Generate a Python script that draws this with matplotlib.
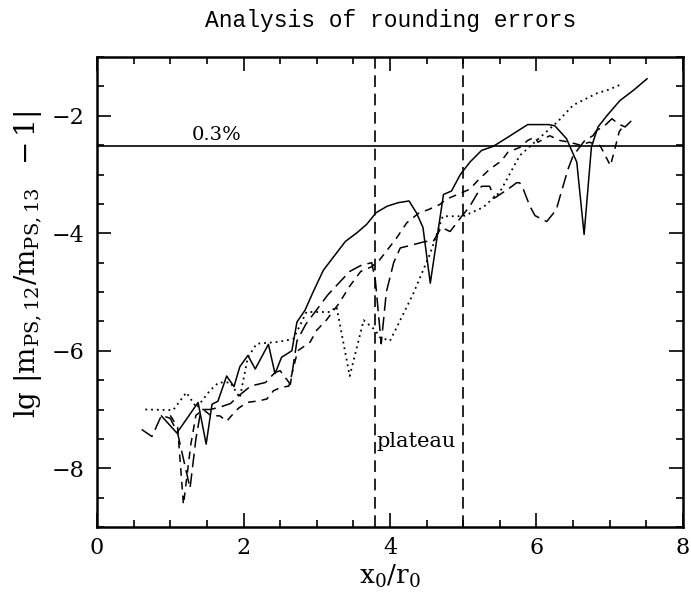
import numpy as np
import matplotlib.pyplot as plt
from matplotlib.ticker import MultipleLocator

# solid curve
x_solid = [0.88, 1.09, 1.38, 1.49, 1.57, 1.65, 1.77, 1.87, 1.95, 2.06, 2.16, 2.34, 2.43, 2.52,
           2.66, 2.73, 2.84, 2.95, 3.09, 3.2, 3.39, 3.55, 3.68, 3.81, 3.96, 4.11, 4.26, 4.36,
           4.45, 4.55, 4.73, 4.84, 4.96, 5.09, 5.25, 5.41, 5.59, 5.88, 6.16, 6.25, 6.41, 6.55,
           6.65, 6.75, 6.84, 6.96, 7.14, 7.32, 7.51]
y_solid = [-7.11, -7.40, -6.88, -7.59, -6.91, -6.86, -6.43, -6.61, -6.27, -6.08, -6.31, -5.89,
           -6.39, -6.11, -6.0, -5.51, -5.31, -5.0, -4.63, -4.45, -4.14, -3.99, -3.85, -3.65,
           -3.54, -3.48, -3.45, -3.65, -3.9, -4.85, -3.34, -3.28, -3.0, -2.79, -2.59, -2.52,
           -2.38, -2.15, -2.15, -2.17, -2.39, -2.79, -4.02, -2.53, -2.19, -2.0, -1.74, -1.57,
           -1.37]

# long dashes
x_long = [0.61, 0.75, 0.88, 1.0, 1.1, 1.27, 1.35, 1.42, 1.55, 1.7, 1.82, 1.95, 2.1, 2.2, 2.3,
          2.43, 2.5, 2.64, 2.73, 2.85, 3.0, 3.15, 3.3, 3.45, 3.6, 3.75, 3.8, 3.88, 3.95, 4.05,
          4.14, 4.3, 4.48, 4.59, 4.7, 4.82, 4.98, 5.09, 5.25, 5.36, 5.43, 5.5, 5.61, 5.73,
          5.77, 5.82, 5.91, 5.98, 6.14, 6.27, 6.32, 6.43, 6.5, 6.66, 6.77, 6.82, 6.93, 7.03,
          7.12, 7.21, 7.3]
y_long = [-7.34, -7.46, -7.1, -7.15, -7.4, -8.34, -7.5, -7.0, -7.0, -6.95, -6.9, -6.75, -6.6,
          -6.57, -6.54, -6.37, -6.34, -6.57, -5.83, -5.55, -5.3, -5.05, -4.85, -4.65, -4.55,
          -4.5, -4.8, -5.88, -5.0, -4.5, -4.25, -4.2, -4.14, -4.14, -3.9, -3.97, -3.71, -3.54,
          -3.2, -3.2, -3.4, -3.34, -3.25, -3.14, -3.14, -3.25, -3.54, -3.7, -3.8, -3.6, -3.38,
          -2.91, -2.68, -2.42, -2.34, -2.25, -2.17, -2.05, -2.14, -2.19, -2.08]

# short dashes
x_short = [1.0, 1.1, 1.18, 1.28, 1.35, 1.45, 1.55, 1.68, 1.77, 1.84, 1.93, 2.05, 2.22, 2.32,
           2.41, 2.5, 2.62, 2.74, 2.81, 2.91, 3.0, 3.13, 3.3, 3.45, 3.6, 3.75, 3.86, 4.09,
           4.23, 4.4, 4.52, 4.68, 4.77, 5.09, 5.2, 5.36, 5.52, 5.61, 5.77, 5.88, 5.98, 6.02,
           6.18, 6.32, 6.45, 6.6, 6.72, 6.87, 7.01, 7.13, 7.2]
y_short = [-7.1, -7.3, -8.62, -7.6, -7.1, -7.0, -7.1, -7.11, -7.2, -7.1, -6.98, -6.88, -6.85,
           -6.82, -6.68, -6.63, -6.6, -6.0, -5.94, -5.85, -5.65, -5.48, -5.2, -4.9, -4.65,
           -4.57, -4.45, -4.08, -3.82, -3.65, -3.6, -3.51, -3.42, -3.25, -3.1, -2.91, -2.77,
           -2.62, -2.54, -2.42, -2.36, -2.45, -2.34, -2.42, -2.45, -2.5, -2.45, -2.51, -2.85,
           -2.27, -2.15]

# dotted
x_dot = [0.66, 1.04, 1.22, 1.36, 1.54, 1.66, 1.82, 1.95, 2.06, 2.18, 2.47, 2.68, 2.86, 3.18,
         3.27, 3.45, 3.64, 3.8, 3.86, 4.0, 4.14, 4.32, 4.55, 4.72, 5.0, 5.27, 5.5, 5.77,
         6.02, 6.29, 6.5, 6.82, 7.0, 7.18]
y_dot = [-7.0, -7.01, -6.71, -6.97, -6.68, -6.54, -6.54, -6.8, -6.11, -5.88, -5.85, -5.8,
         -5.34, -5.34, -5.25, -6.43, -5.48, -5.65, -5.77, -5.83, -5.48, -5.02, -4.34, -3.71,
         -3.71, -3.56, -3.3, -2.68, -2.4, -2.1, -1.82, -1.62, -1.55, -1.45]

level = np.log10(0.003)
plateau = [3.8, 5.0]

plt.rcParams['mathtext.fontset'] = 'dejavuserif'
plt.rcParams['font.family'] = 'DejaVu Serif'

fig = plt.figure(figsize=(6.91, 5.94), dpi=100)
ax = fig.add_axes([0.1404, 0.1128, 0.848, 0.7912])

lw = 1.1
ax.plot(x_solid, y_solid, color='black', lw=lw)
ax.plot(x_long, y_long, color='black', lw=lw, linestyle=(0, (9, 4)))
ax.plot(x_short, y_short, color='black', lw=lw, linestyle=(0, (5, 4)))
ax.plot(x_dot, y_dot, color='black', lw=1.3, linestyle=(0, (1, 2.2)))

ax.axhline(level, color='black', lw=1.2)
for xp in plateau:
    ax.axvline(xp, color='black', lw=1.2, linestyle=(0, (7, 4)))

ax.text(1.3, level + 0.04, '0.3%', fontsize=14, ha='left', va='bottom')
ax.text(3.82, -7.55, 'plateau', fontsize=15, ha='left', va='center')

ax.set_xlim(0, 8)
ax.set_ylim(-9, -1)
ax.xaxis.set_major_locator(MultipleLocator(2))
ax.xaxis.set_minor_locator(MultipleLocator(0.5))
ax.yaxis.set_major_locator(MultipleLocator(2))
ax.yaxis.set_minor_locator(MultipleLocator(0.5))
ax.tick_params(which='both', direction='in', top=True, right=True, width=1.2,
               labelsize=16)
ax.tick_params(which='major', length=10)
ax.tick_params(which='minor', length=5)
ax.tick_params(axis='y', pad=9)
ax.tick_params(axis='x', pad=7)
for s in ax.spines.values():
    s.set_linewidth(1.8)

ax.set_xlabel(r'$\mathrm{x_0/r_0}$', fontsize=19, labelpad=3)
ax.set_ylabel(r'$\mathrm{lg}\ |\mathrm{m_{PS,12}/m_{PS,13}}\ \ -1|$', fontsize=20)
ax.yaxis.set_label_coords(-0.09, 0.56)

fig.text(0.565, 0.966, 'Analysis of rounding errors', fontsize=16.5,
         family='Liberation Mono', ha='center', va='center')

plt.savefig('out.png', dpi=100)
